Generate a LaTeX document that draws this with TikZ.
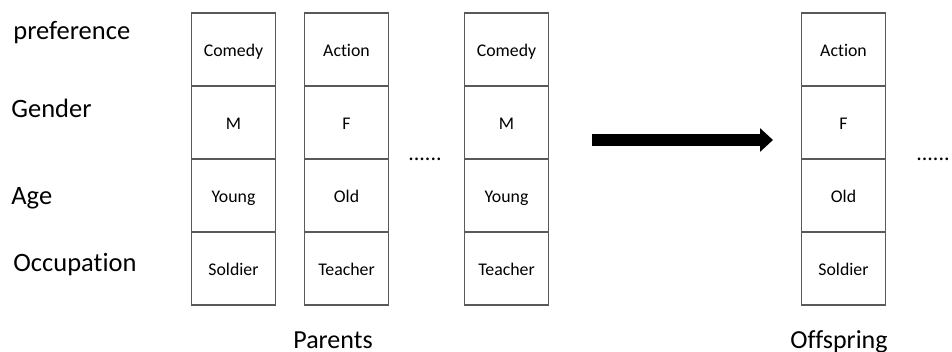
\documentclass[tikz,border=0pt]{standalone}
\usepackage{fontspec}
\setmainfont{Carlito}[Ligatures=NoCommon]
\usetikzlibrary{positioning}
\usetikzlibrary{arrows.meta}
\tikzset{
	cell/.style={draw=black!65,line width=0.6pt,outer sep=0pt,inner sep=0pt,
		minimum width=42pt,minimum height=36.5pt,text height=8.2pt,text depth=1.2pt,
		font=\fontsize{8.9}{10}\selectfont},
	rowlabel/.style={anchor=base west,inner sep=0pt,font=\fontsize{13.25}{15}\selectfont},
	grouplabel/.style={anchor=base,inner sep=0pt,font=\fontsize{13}{15}\selectfont},
	dots/.style={anchor=base,inner sep=0pt,font=\fontsize{11}{12}\selectfont},
}

\begin{document}
\begin{tikzpicture}[x=0.5pt,y=-0.5pt]
	\useasboundingbox (0,0) rectangle (952,352);

	%row labels.....................
	\node [rowlabel] (lpref) at (13,40) {preference};
	\node [rowlabel] (lgender) at (11,118) {Gender};
	\node [rowlabel] (lage) at (11,205) {Age};
	\node [rowlabel] (locc) at (13,271) {Occupation};

	%parent chromosomes......................
	\foreach \col/\x/\pref/\gen/\age/\occ in {1/233.5/Comedy/M/Young/Soldier,
			2/346.5/Action/F/Old/Teacher, 3/506.5/Comedy/M/Young/Teacher}{
		\node [cell] (p\col-1) at (\x,49.5) {\pref};
		\node [cell,below=0pt of p\col-1] (p\col-2) {\gen};
		\node [cell,below=0pt of p\col-2] (p\col-3) {\age};
		\node [cell,below=0pt of p\col-3] (p\col-4) {\occ};
	}
	\node [dots] (pdots) at (425,161) {......};
	\node [grouplabel] (parents) at (333,348) {Parents};

	% crossover arrow...................
	\coordinate (afrom) at (592,140);
	\coordinate (ato) at (773,140);
	\draw [line width=6pt,-{Triangle[length=6.5pt,width=11.5pt]}] (afrom) -- (ato);

	%offspring chromosome.......................
	\node [cell] (o-1) at (843.5,49.5) {Action};
	\node [cell,below=0pt of o-1] (o-2) {F};
	\node [cell,below=0pt of o-2] (o-3) {Old};
	\node [cell,below=0pt of o-3] (o-4) {Soldier};
	\node [dots] (odots) at (933,161) {......};
	\node [grouplabel] (offspring) at (839,348) {Offspring};

\end{tikzpicture}
\end{document}
